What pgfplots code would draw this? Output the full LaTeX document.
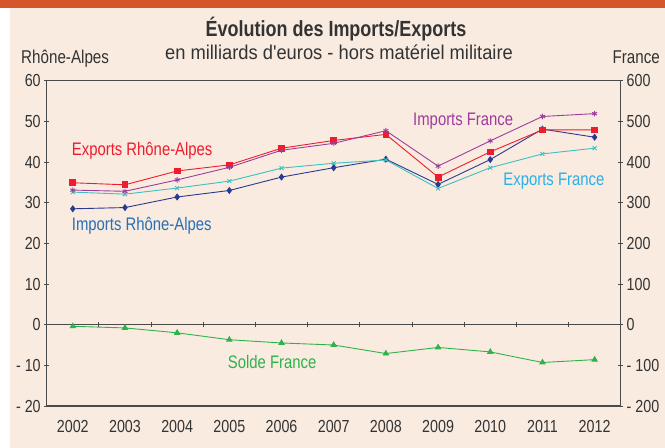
\documentclass[border=0pt]{standalone}
\usepackage{fontspec}
\setmainfont{Liberation Sans}[FakeStretch=0.82]
\newfontfamily\subfont{Liberation Sans}[FakeStretch=0.92]
\usepackage{pgfplots}
\pgfplotsset{compat=1.18}
\definecolor{bg}{HTML}{F9EBE0}
\definecolor{topbar}{HTML}{D4562A}
\definecolor{axisgray}{HTML}{4A4A4A}
\definecolor{txt}{HTML}{333333}
\definecolor{cred}{HTML}{EE1C2E}
\definecolor{cpurple}{HTML}{9E3C9C}
\definecolor{ccyan}{HTML}{40BFC0}
\definecolor{cnavy}{HTML}{2B3990}
\definecolor{cgreen}{HTML}{2DB34A}
\definecolor{lblue}{HTML}{2A6EB5}
\definecolor{lcyan}{HTML}{29B0E8}
\newcommand\ticksize{\fontsize{17.5}{19}\selectfont}
\newcommand\lblsize{\fontsize{18.2}{20}\selectfont}
\pgfplotsset{
  common/.style={
    at={(46.7bp,42bp)}, anchor=south west, scale only axis,
    width=574bp, height=325.3bp,
    xmin=2001.5, xmax=2012.5,
    tick align=center, major tick length=5bp,
    axis line style={draw=axisgray, line width=1.1pt},
    every tick/.style={axisgray, line width=0.9pt},
    tick label style={font=\ticksize, text=txt},
    clip=false,
  }
}
\begin{document}
\begin{tikzpicture}
\fill[bg] (10bp,0bp) rectangle (665bp,440bp);
\fill[topbar] (0bp,440bp) rectangle (665bp,448bp);
\node[anchor=base, font=\bfseries\fontsize{22}{24}\selectfont, text=txt] at (336bp,411.3bp) {Évolution des Imports/Exports};
\node[anchor=base, font=\subfont\fontsize{20}{22}\selectfont, text=txt] at (339bp,388bp) {en milliards d'euros - hors matériel militaire};
\node[anchor=base west, font=\fontsize{18.6}{20}\selectfont, text=txt, inner sep=0pt] at (21bp,384.7bp) {Rhône-Alpes};
\node[anchor=base east, font=\fontsize{18.6}{20}\selectfont, text=txt, inner sep=0pt] at (660bp,384.7bp) {France};

% Left axis: Rhone-Alpes
\begin{axis}[common,
  ymin=-20, ymax=60,
  ytick={-20,-10,0,10,20,30,40,50,60},
  yticklabels={- 20,- 10,0,10,20,30,40,50,60},
  ytick pos=left,
  xtick={2002,2003,2004,2005,2006,2007,2008,2009,2010,2011,2012},
  xticklabels={2002,2003,2004,2005,2006,2007,2008,2009,2010,2011,2012},
  major x tick style={draw=none},
  x tick label style={yshift=-8bp},
]
\draw[axisgray, line width=1.1pt] (axis cs:2001.5,0) -- (axis cs:2012.5,0);
\pgfplotsinvokeforeach{2002.5,2003.5,2004.5,2005.5,2006.5,2007.5,2008.5,2009.5,2010.5,2011.5}{
  \draw[axisgray, line width=0.9pt] (axis cs:#1,-0.6) -- (axis cs:#1,0.6);
}
\addplot[cnavy, line width=0.9pt, mark=diamond*, mark size=2.9pt, mark options={fill=cnavy}] coordinates {
(2002,28.5) (2003,28.8) (2004,31.4) (2005,33.0) (2006,36.3) (2007,38.6) (2008,40.7) (2009,34.5) (2010,40.6) (2011,48.1) (2012,46.1)};
\addplot[cred, line width=0.9pt, mark=square*, mark size=2.9pt, mark options={fill=cred}] coordinates {
(2002,34.9) (2003,34.4) (2004,37.8) (2005,39.3) (2006,43.4) (2007,45.3) (2008,46.8) (2009,36.3) (2010,42.5) (2011,47.9) (2012,47.9)};
\node[anchor=west, text=cred, font=\lblsize, inner sep=0pt] at (axis cs:2001.98,42.7) {Exports Rhône-Alpes};
\node[anchor=west, text=lblue, font=\lblsize, inner sep=0pt] at (axis cs:2001.98,24.2) {Imports Rhône-Alpes};
\node[anchor=west, text=cpurple, font=\lblsize, inner sep=0pt] at (axis cs:2008.52,50.0) {Imports France};
\node[anchor=west, text=lcyan, font=\lblsize, inner sep=0pt] at (axis cs:2010.25,35.2) {Exports France};
\node[anchor=west, text=cgreen, font=\lblsize, inner sep=0pt] at (axis cs:2004.97,-9.2) {Solde France};
\end{axis}

% Right axis: France
\begin{axis}[common,
  ymin=-200, ymax=600,
  axis y line*=right, axis x line=none,
  ytick={-200,-100,0,100,200,300,400,500,600},
  yticklabels={- 200,- 100,0,100,200,300,400,500,600},
]
\addplot[ccyan, line width=0.9pt, mark=x, mark size=2.8pt, mark options={line width=0.9pt}] coordinates {
(2002,326) (2003,321) (2004,336) (2005,353) (2006,385) (2007,397) (2008,405) (2009,335) (2010,386) (2011,420) (2012,434)};
\addplot[cpurple, line width=0.9pt, mark=asterisk, mark size=2.8pt, mark options={line width=0.9pt}] coordinates {
(2002,331) (2003,328) (2004,356) (2005,387) (2006,429) (2007,446) (2008,477) (2009,390) (2010,452) (2011,512) (2012,519)};
\addplot[cgreen, line width=0.9pt, mark=triangle*, mark size=3pt, mark options={fill=cgreen}] coordinates {
(2002,-4) (2003,-8) (2004,-20) (2005,-37) (2006,-45) (2007,-50) (2008,-71) (2009,-56) (2010,-67) (2011,-93) (2012,-86)};
\end{axis}
\end{tikzpicture}
\end{document}
